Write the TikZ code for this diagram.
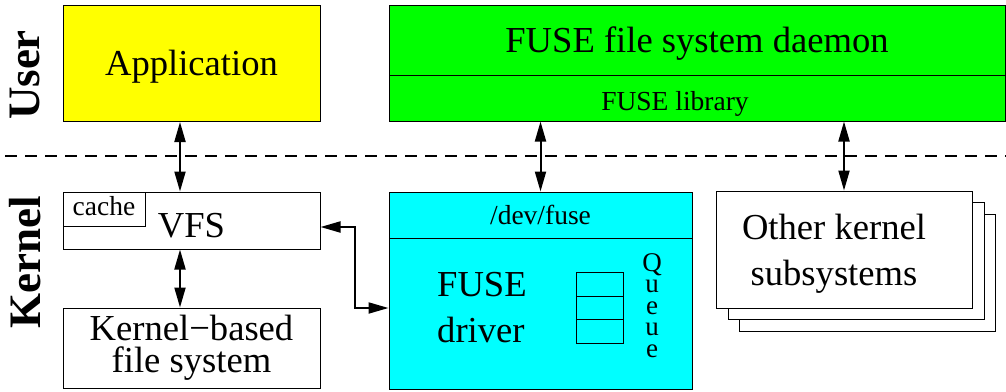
\documentclass[tikz,border=0pt]{standalone}
\usepackage{fontspec}
\setmainfont{Liberation Serif}
\usetikzlibrary{arrows.meta}
\definecolor{appyellow}{RGB}{255,255,0}
\definecolor{fusegreen}{RGB}{0,255,0}
\definecolor{fusecyan}{RGB}{0,255,255}

\begin{document}
\begin{tikzpicture}[
		x = 1pt, y = -1pt,
		every node/.style = {inner sep = 0pt},
		box/.style = {draw, rectangle, line width = 1pt},
		big/.style = {font = \fontsize{36.6}{46}\selectfont},
		small/.style = {font = \fontsize{27.5}{30}\selectfont},
		side/.style = {rotate = 90, font = \fontsize{45}{50}\selectfont\bfseries},
		link/.style = {{Triangle[length = 20pt, width = 11pt]}-{Triangle[length = 20pt, width = 11pt]}, line width = 2pt}
	]

	\useasboundingbox (0, 0) rectangle (1006, 391);

	% user space
	\node (app) [box, fill = appyellow, minimum width = 257pt, minimum height = 116pt, big, text depth = 2pt] at (191.5, 63.5) {Application};
	\node (daemon) [box, fill = fusegreen, minimum width = 616pt, minimum height = 70pt, big, text depth = 1pt] at (697, 40) {FUSE file system daemon};
	\node (lib) [box, fill = fusegreen, minimum width = 616pt, minimum height = 46pt] at (697, 98) {};
	\node (libtext) [small, text height = 24pt, text depth = 0pt] at (675, 98) {FUSE library};

	% kernel space
	\node (vfs) [box, minimum width = 257pt, minimum height = 57pt, big, text height = 33pt, text depth = 0pt] at (191.5, 220.5) {VFS};
	\node (cache) [box, anchor = north west, minimum width = 82pt, minimum height = 34pt, small, text height = 12.6pt, text depth = 0pt] at (vfs.north west) {cache};
	\node (kfs) [box, minimum width = 257pt, minimum height = 80pt, align = center, font = \fontsize{36.6}{32}\selectfont] at (191.5, 348) {Kernel−based\\file system};

	\node (dev) [box, fill = fusecyan, minimum width = 303pt, minimum height = 46pt, small] at (540.5, 215) {/dev/fuse};
	\node (drv) [box, fill = fusecyan, minimum width = 303pt, minimum height = 151pt] at (540.5, 313.5) {};
	\node (drvtext) [big, align = left, anchor = west] at (437, 308) {FUSE\\driver};
	\node (q1) [box, minimum width = 47pt, minimum height = 23.5pt] at (599.5, 284.5) {};
	\node (q2) [below of = q1, node distance = 23.5pt, box, minimum width = 47pt, minimum height = 23.5pt] {};
	\node (q3) [below of = q2, node distance = 23.5pt, box, minimum width = 47pt, minimum height = 23.5pt] {};
	\node (queue) [align = center, font = \fontsize{27}{21.5}\selectfont] at (652, 305.5) {Q\\u\\e\\u\\e};

	\node (other3) [box, fill = white, minimum width = 256pt, minimum height = 117pt] at (867.5, 273) {};
	\node (other2) [box, fill = white, minimum width = 256pt, minimum height = 117pt] at (856, 261) {};
	\node (other) [box, fill = white, minimum width = 256pt, minimum height = 117pt] at (844, 249.5) {};
	\node (othertext) [big, align = center] at (834, 253.5) {Other kernel\\subsystems};

	\node (user) [side] at (25, 75) {User};
	\node (kernel) [side] at (25, 262) {Kernel};

	\draw [line width = 2pt, dash pattern = on 12pt off 8pt] (5, 156) -- (1006, 156);

	\draw [link] ([xshift = -11.5pt]app.south) -- ([xshift = -11.5pt]vfs.north);
	\draw [link] ([xshift = -11.5pt]vfs.south) -- ([xshift = -11.5pt]kfs.north);
	\draw [link] (lib.south -| dev.north) -- (dev.north);
	\draw [link] (lib.south -| other.north) -- (other.north);
	\draw [link] ([yshift = -6.5pt]vfs.east) -- ++(34pt, 0) |- ([yshift = 5.5pt]drv.west);
\end{tikzpicture}
\end{document}
